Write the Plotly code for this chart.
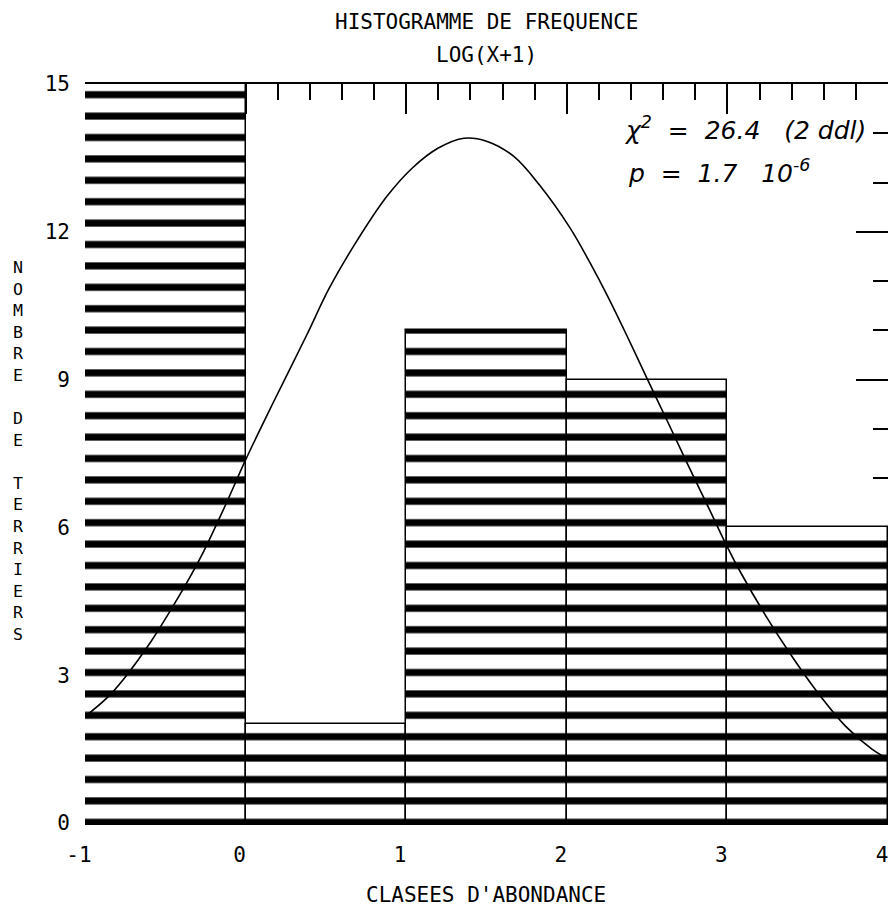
import plotly.graph_objects as go

# ---------------- data ----------------
class_left = [-1, 0, 1, 2, 3]
class_width = [1, 1, 1, 1, 1]
counts = [15, 2, 10, 9, 6]

curve_x = [-1.0, -0.86, -0.76, -0.59, -0.48, -0.35, -0.26, -0.13, 0.0, 0.17, 0.38,
           0.52, 0.69, 0.88, 1.04, 1.2, 1.36, 1.5, 1.67, 1.83, 2.02, 2.14, 2.25,
           2.37, 2.5, 2.62, 2.75, 2.89, 3.0, 3.08, 3.24, 3.39, 3.55, 3.74, 3.9, 4.0]
curve_y = [2.16, 2.55, 2.92, 3.68, 4.25, 4.97, 5.52, 6.42, 7.37, 8.52, 9.9,
           10.85, 11.8, 12.72, 13.3, 13.7, 13.9, 13.84, 13.53, 12.95, 12.08, 11.4, 10.72,
           9.92, 9.02, 8.2, 7.3, 6.35, 5.6, 5.1, 4.2, 3.44, 2.7, 1.95, 1.5, 1.3]

x_ticks = [-1, 0, 1, 2, 3, 4]
y_ticks = [0, 3, 6, 9, 12, 15]
title_lines = ["HISTOGRAMME DE FREQUENCE", "LOG(X+1)"]
x_title = "CLASEES D'ABONDANCE"
y_title = "NOMBRE DE TERRIERS"
stat_lines = ["χ<sup>2</sup>  =  26.4   (2 ddl)", "p  =  1.7   10<sup>-6</sup>"]

# ---------------- layout constants ----------------
W, H = 888, 907
L, R, T, B = 85, 0, 84, 84
PW, PH = W - L - R, H - T - B
MONO = "DejaVu Sans Mono"


def px_x(px):
    return (px - L) / PW


def px_y(py):
    return (H - B - py) / PH


bar_centers = [l + w / 2 for l, w in zip(class_left, class_width)]

fig = go.Figure()
fig.add_trace(go.Bar(
    x=bar_centers, y=counts, width=class_width,
    marker=dict(
        color="white",
        line=dict(color="black", width=1.5),
        pattern=dict(shape="-", size=21.4, solidity=0.33, fgcolor="black", fgopacity=1,
                     bgcolor="white", fillmode="overlay"),
    ),
    showlegend=False, hoverinfo="skip",
))
fig.add_trace(go.Scatter(
    x=curve_x, y=curve_y, mode="lines",
    line=dict(color="black", width=1.6, shape="spline", smoothing=1.0),
    showlegend=False, hoverinfo="skip",
))

annotations = []
for text, py in zip(title_lines, [22, 55]):
    annotations.append(dict(text=text, xref="paper", yref="paper", x=px_x(486), y=px_y(py),
                            xanchor="center", yanchor="middle", showarrow=False,
                            font=dict(family=MONO, size=21, color="black")))
annotations.append(dict(text=x_title, xref="paper", yref="paper", x=px_x(486), y=px_y(895),
                        xanchor="center", yanchor="middle", showarrow=False,
                        font=dict(family=MONO, size=21, color="black")))
# stacked (upright) vertical axis title
stacked = "<br>".join(ch if ch != " " else "\u00a0" for ch in y_title)
annotations.append(dict(text=stacked, xref="paper", yref="paper", x=px_x(18), y=px_y(451),
                        xanchor="center", yanchor="middle", showarrow=False,
                        font=dict(family=MONO, size=16.6, color="black")))
for text, (lx, py) in zip(stat_lines, [(622, 128), (626, 171)]):
    annotations.append(dict(text="<i>" + text + "</i>", xref="paper", yref="paper",
                            x=px_x(lx), y=px_y(py), xanchor="left", yanchor="middle",
                            showarrow=False,
                            font=dict(family="DejaVu Sans", size=25, color="black")))

fig.update_layout(
    width=W, height=H,
    margin=dict(l=L, r=R, t=T, b=B),
    paper_bgcolor="white", plot_bgcolor="white",
    bargap=0,
    annotations=annotations,
    xaxis=dict(
        range=[-1, 4], tickvals=x_ticks, ticktext=[str(v) for v in x_ticks],
        ticks="inside", ticklen=30, tickwidth=1.5, tickcolor="black",
        minor=dict(dtick=0.2, ticks="inside", ticklen=16, tickwidth=1.5, tickcolor="black"),
        showline=True, linecolor="black", linewidth=2, mirror="ticks",
        showgrid=False, zeroline=False, layer="below traces",
        tickfont=dict(family=MONO, size=21, color="black"),
        ticklabelshift=-6, ticklabelstandoff=12, ticklabeloverflow="allow",
    ),
    yaxis=dict(
        range=[0, 15], tickvals=y_ticks, ticktext=[str(v) for v in y_ticks],
        ticks="inside", ticklen=32, tickwidth=2, tickcolor="black",
        minor=dict(dtick=1, ticks="inside", ticklen=15, tickwidth=2, tickcolor="black"),
        showline=False, mirror="ticks",
        showgrid=False, zeroline=False, layer="below traces",
        tickfont=dict(family=MONO, size=21, color="black"),
        ticklabelstandoff=14,
    ),
)

fig.write_html("out.html")
